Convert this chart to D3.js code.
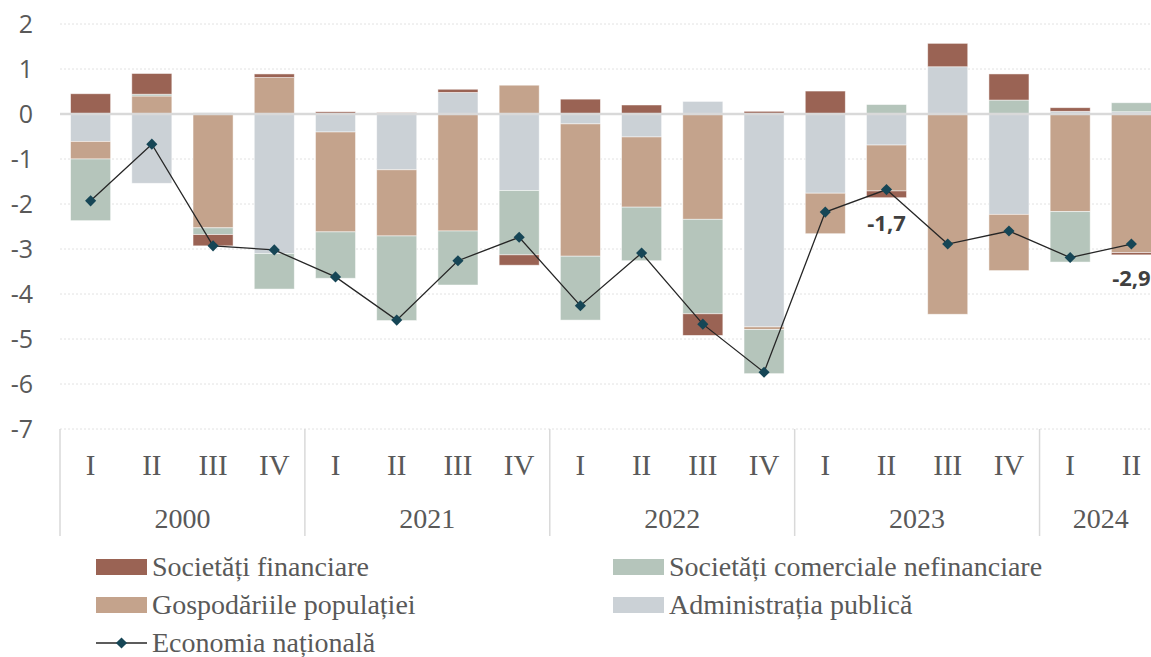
<!DOCTYPE html>
<html>
	<head>
		<meta charset="UTF-8" />
		<title>Contribuții pe sectoare</title>
		<script src="https://cdn.jsdelivr.net/npm/d3@7"></script>
		<style>
			body {
				margin: 0;
				background: #fff;
			}
			svg {
				display: block;
			}
		</style>
	</head>
	<body>
		<svg width="1151" height="657"></svg>

		<script>
			const quarters = ["I", "II", "III", "IV", "I", "II", "III", "IV", "I", "II", "III", "IV", "I", "II", "III", "IV", "I", "II"];
			const yearOf = ["2000", "2000", "2000", "2000", "2021", "2021", "2021", "2021", "2022", "2022", "2022", "2022", "2023", "2023", "2023", "2023", "2024", "2024"];
			const yTicks = [2, 1, 0, -1, -2, -3, -4, -5, -6, -7];

			const administratie = [-0.61, -1.54, 0.03, -3.1, -0.4, -1.24, 0.48, -1.7, -0.22, -0.51, 0.28, -4.73, -1.76, -0.69, 1.05, -2.23, 0.06, 0.05];
			const gospodarii = [-0.39, 0.4, -2.53, 0.81, -2.22, -1.47, -2.6, 0.64, -2.94, -1.56, -2.34, -0.06, -0.9, -1.02, -4.45, -1.25, -2.17, -3.08];
			const nefinanciare = [-1.37, 0.04, -0.15, -0.79, -1.03, -1.88, -1.2, -1.43, -1.42, -1.19, -2.1, -0.98, 0, 0.21, 0, 0.31, -1.12, 0.2];
			const financiare = [0.45, 0.46, -0.25, 0.08, 0.05, 0.03, 0.07, -0.23, 0.33, 0.2, -0.48, 0.06, 0.51, -0.15, 0.52, 0.58, 0.08, -0.05];
			const economia = [-1.93, -0.67, -2.93, -3.02, -3.62, -4.58, -3.26, -2.74, -4.26, -3.09, -4.67, -5.74, -2.18, -1.68, -2.89, -2.6, -3.19, -2.89];
			// only these two points carry a value label
			const shownLabels = { 13: "-1,7", 17: "-2,9" };

			const seriesKeys = ["admin", "gosp", "nefin", "fin"];
			const seriesNames = {
				fin: "Societăți financiare",
				nefin: "Societăți comerciale nefinanciare",
				gosp: "Gospodăriile populației",
				admin: "Administrația publică",
			};
			const colors = { fin: "#9a6354", nefin: "#b5c5bb", gosp: "#c4a38c", admin: "#cbd1d6" };

			const rows = quarters.map((q, i) => ({
				i: i,
				admin: administratie[i],
				gosp: gospodarii[i],
				nefin: nefinanciare[i],
				fin: financiare[i],
			}));

			const svg = d3.select("svg");
			const plotLeft = 60,
				plotRight = 1162,
				plotTop = 24,
				plotBottom = 429;

			const x = d3
				.scaleBand()
				.domain(d3.range(quarters.length))
				.range([plotLeft, plotRight])
				.paddingInner(0.346)
				.paddingOuter(0.173);
			const y = d3.scaleLinear().domain([-7, 2]).range([plotBottom, plotTop]);

			// grid lines
			svg
				.append("g")
				.selectAll("line")
				.data(yTicks.filter((t) => t !== 0))
				.enter()
				.append("line")
				.attr("x1", plotLeft)
				.attr("x2", 1151)
				.attr("y1", (d) => y(d))
				.attr("y2", (d) => y(d))
				.attr("stroke", "#e2e2e2")
				.attr("stroke-dasharray", "2,2");

			// y tick labels
			svg
				.append("g")
				.selectAll("text")
				.data(yTicks)
				.enter()
				.append("text")
				.text((d) => d)
				.attr("x", 33)
				.attr("y", (d) => y(d))
				.attr("dy", "0.35em")
				.attr("text-anchor", "end")
				.style("font-family", "'Open Sans', sans-serif")
				.style("font-size", "25px")
				.attr("fill", "#595959");

			// stacked bars
			const stacked = d3.stack().keys(seriesKeys).offset(d3.stackOffsetDiverging)(rows);
			const layers = svg
				.append("g")
				.selectAll("g")
				.data(stacked)
				.enter()
				.append("g")
				.attr("fill", (d) => colors[d.key]);
			layers
				.selectAll("rect")
				.data((d) => d)
				.enter()
				.append("rect")
				.attr("x", (d) => x(d.data.i))
				.attr("width", x.bandwidth())
				.attr("y", (d) => y(Math.max(d[0], d[1])))
				.attr("height", (d) => Math.abs(y(d[0]) - y(d[1])))
				.attr("stroke", "#ffffff")
				.attr("stroke-opacity", 0.6)
				.attr("stroke-width", 0.8);

			// zero line
			svg
				.append("line")
				.attr("x1", plotLeft)
				.attr("x2", 1151)
				.attr("y1", y(0))
				.attr("y2", y(0))
				.attr("stroke", "#d9d9d9")
				.attr("stroke-width", 2.5);

			// economia nationala line
			const cx = (i) => x(i) + x.bandwidth() / 2;
			const line = d3
				.line()
				.x((d, i) => cx(i))
				.y((d) => y(d));
			svg
				.append("path")
				.datum(economia)
				.attr("d", line)
				.attr("fill", "none")
				.attr("stroke", "#262626")
				.attr("stroke-width", 1.3);

			const diamond = d3.symbol().type(d3.symbolSquare).size(62);
			svg
				.append("g")
				.selectAll("path")
				.data(economia)
				.enter()
				.append("path")
				.attr("d", diamond)
				.attr("transform", (d, i) => `translate(${cx(i)},${y(d)}) rotate(45)`)
				.attr("fill", "#164656");

			svg
				.append("g")
				.selectAll("text")
				.data(Object.keys(shownLabels))
				.enter()
				.append("text")
				.text((k) => shownLabels[k])
				.attr("x", (k) => cx(+k))
				.attr("y", (k) => y(economia[k]) + 34)
				.attr("dy", "0.35em")
				.attr("text-anchor", "middle")
				.style("font-family", "'Open Sans', sans-serif")
				.style("font-weight", "bold")
				.style("font-size", "22px")
				.attr("fill", "#404040");

			// category axis
			const serif = "'Liberation Serif', 'DejaVu Serif', serif";
			svg
				.append("g")
				.selectAll("text")
				.data(quarters)
				.enter()
				.append("text")
				.text((d) => d)
				.attr("x", (d, i) => cx(i))
				.attr("y", 475)
				.attr("text-anchor", "middle")
				.style("font-family", serif)
				.style("font-size", "29px")
				.attr("fill", "#595959");

			const yearGroups = d3.groups(
				quarters.map((q, i) => i),
				(i) => yearOf[i]
			);
			const sepX = yearGroups.map((g) => x(g[1][0]) - (x.step() * x.paddingInner()) / 2);
			sepX[0] = plotLeft;
			svg
				.append("g")
				.selectAll("line")
				.data(sepX)
				.enter()
				.append("line")
				.attr("x1", (d) => d)
				.attr("x2", (d) => d)
				.attr("y1", plotBottom)
				.attr("y2", 536)
				.attr("stroke", "#d9d9d9")
				.attr("stroke-width", 1.5);

			svg
				.append("g")
				.selectAll("text")
				.data(yearGroups)
				.enter()
				.append("text")
				.text((g) => g[0])
				.attr("x", (g) => (cx(g[1][0]) + cx(g[1][g[1].length - 1])) / 2)
				.attr("y", 528)
				.attr("text-anchor", "middle")
				.style("font-family", serif)
				.style("font-size", "28px")
				.attr("fill", "#595959");

			// legend
			const legendItems = [
				{ key: "fin", x: 96, y: 567 },
				{ key: "nefin", x: 613, y: 567 },
				{ key: "gosp", x: 96, y: 605 },
				{ key: "admin", x: 613, y: 605 },
			];
			const leg = svg
				.append("g")
				.selectAll("g")
				.data(legendItems)
				.enter()
				.append("g")
				.attr("transform", (d) => `translate(${d.x},${d.y})`);
			leg
				.append("rect")
				.attr("x", 0)
				.attr("y", -8)
				.attr("width", 51)
				.attr("height", 16)
				.attr("fill", (d) => colors[d.key]);
			leg
				.append("text")
				.text((d) => seriesNames[d.key])
				.attr("x", 56)
				.attr("dy", "0.33em")
				.style("font-family", serif)
				.style("font-size", "28px")
				.attr("fill", "#595959");

			const lineLeg = svg.append("g").attr("transform", "translate(96,643)");
			lineLeg.append("line").attr("x1", 0).attr("x2", 51).attr("stroke", "#262626").attr("stroke-width", 1.3);
			lineLeg.append("path").attr("d", diamond).attr("transform", "translate(25.5,0) rotate(45)").attr("fill", "#164656");
			lineLeg
				.append("text")
				.text("Economia națională")
				.attr("x", 56)
				.attr("dy", "0.33em")
				.style("font-family", serif)
				.style("font-size", "28px")
				.attr("fill", "#595959");
		</script>
	</body>
</html>
